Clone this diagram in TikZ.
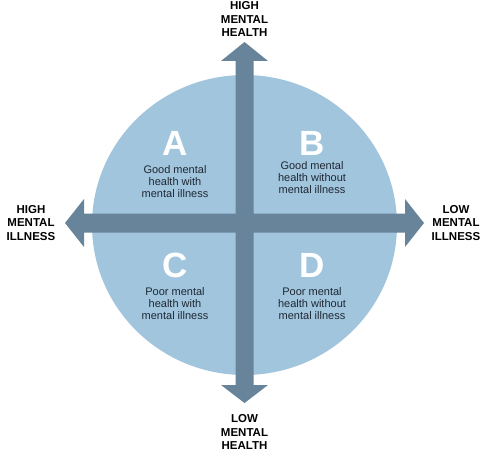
\documentclass[tikz,border=0pt]{standalone}
\usepackage{fontspec}
\setmainfont{Liberation Sans}
\definecolor{circ}{HTML}{A2C5DE}
\definecolor{bar}{HTML}{67849A}
\definecolor{ink}{HTML}{1E2833}
\begin{document}
\begin{tikzpicture}[x=1pt,y=-1pt,
  axislabel/.style={align=center,inner sep=0pt,font=\fontsize{11.5}{13.3}\selectfont\bfseries,text=black},
  letter/.style={inner sep=0pt,font=\fontsize{35}{35}\selectfont\bfseries,text=white},
  desc/.style={align=center,inner sep=0pt,font=\fontsize{11}{12}\selectfont,text=ink}]
\useasboundingbox (0,0) rectangle (489,462);
\fill[circ] (244.5,225) ellipse [x radius=152.5, y radius=150];
% vertical double arrow
\fill[bar] (244.5,42) -- (268,61) -- (253.5,61) -- (253.5,385) -- (268,385) -- (244.5,403)
  -- (221,385) -- (235.5,385) -- (235.5,61) -- (221,61) -- cycle;
% horizontal double arrow
\fill[bar] (65,223) -- (84,199) -- (84,213.5) -- (405,213.5) -- (405,199) -- (424,223)
  -- (405,247) -- (405,232.5) -- (84,232.5) -- (84,247) -- cycle;
\node[axislabel] (top) at (244.5,19) {HIGH\\MENTAL\\HEALTH};
\node[axislabel] (bottom) at (244.5,432) {LOW\\MENTAL\\HEALTH};
\node[axislabel] (left) at (31,223) {HIGH\\MENTAL\\ILLNESS};
\node[axislabel] (right) at (456,223) {LOW\\MENTAL\\ILLNESS};
\node[letter] (A) at (175,143) {A};
\node[letter] (B) at (312,143) {B};
\node[letter] (C) at (175,265.5) {C};
\node[letter] (D) at (312,265.5) {D};
\node[desc] (a) at (175,182) {Good mental\\health with\\mental illness};
\node[desc] (b) at (312,178) {Good mental\\health without\\mental illness};
\node[desc] (c) at (175,304) {Poor mental\\health with\\mental illness};
\node[desc] (d) at (312,304) {Poor mental\\health without\\mental illness};
\end{tikzpicture}
\end{document}
